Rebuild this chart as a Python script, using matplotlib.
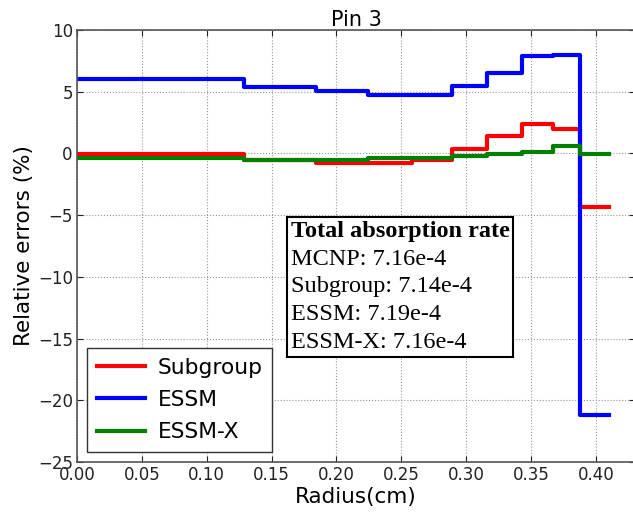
import matplotlib
matplotlib.use("Agg")
import matplotlib.pyplot as plt
import numpy as np
from matplotlib.offsetbox import TextArea, VPacker, AnchoredOffsetbox

# ring boundaries (cm)
edges = [0.0, 0.129, 0.184, 0.224, 0.258, 0.289, 0.316, 0.343, 0.367, 0.388, 0.410]
subgroup = [-0.03, -0.55, -0.78, -0.78, -0.55, 0.33, 1.43, 2.42, 1.97, -4.32]
essm = [6.0, 5.42, 5.05, 4.77, 4.77, 5.48, 6.48, 7.92, 8.0, -21.2]
essm_x = [-0.33, -0.52, -0.52, -0.35, -0.35, -0.19, -0.07, 0.08, 0.6, -0.05]
series_names = ["Subgroup", "ESSM", "ESSM-X"]
series_colors = ["#ff0000", "#0000ff", "#008000"]
title = "Pin 3"
xlabel = "Radius(cm)"
ylabel = "Relative errors (%)"
box_title = "Total absorption rate"
box_lines = ["MCNP: 7.16e-4", "Subgroup: 7.14e-4", "ESSM: 7.19e-4", "ESSM-X: 7.16e-4"]
xticks = [0.00, 0.05, 0.10, 0.15, 0.20, 0.25, 0.30, 0.35, 0.40]
yticks = [-25, -20, -15, -10, -5, 0, 5, 10]

plt.rcParams['font.family'] = ['DejaVu Sans']
fig = plt.figure(figsize=(6.33, 5.14), dpi=100)
fig.patch.set_facecolor('white')
ax = fig.add_axes([77/633, 52/514, 558/633, 432/514])

for vals, name, col in zip([subgroup, essm, essm_x], series_names, series_colors):
    ax.plot(edges, list(vals) + [vals[-1]], drawstyle='steps-post', color=col, lw=3, label=name)

ax.set_xlim(0, 558/1297)
ax.set_ylim(-25, 10)
ax.set_xticks(xticks)
ax.set_xticklabels([f"{t:.2f}" for t in xticks])
ax.set_yticks(yticks)
ax.set_yticklabels([f"\u2212{abs(t)}" if t < 0 else f"{t}" for t in yticks])
ax.grid(True, color='#999999', linestyle=':', linewidth=0.8)
ax.tick_params(direction='in', labelsize=12, length=4, pad=3, top=True, right=True, colors='#222222')
for s in ax.spines.values():
    s.set_color('#555555')
    s.set_linewidth(1.2)
ax.set_title(title, fontsize=15, pad=3)
ax.set_xlabel(xlabel, fontsize=15.5, labelpad=2)
ax.set_ylabel(ylabel, fontsize=15.5, labelpad=3)

leg = ax.legend(loc='lower left', fontsize=15.7, fancybox=False, framealpha=1,
                edgecolor='#333333', borderaxespad=0.45, handlelength=2.2, handletextpad=0.6,
                labelspacing=0.57, borderpad=0.45)
leg.get_frame().set_linewidth(1.0)

serif = ['Liberation Serif', 'DejaVu Serif']
items = [TextArea(box_title, textprops=dict(family=serif, weight='bold', size=17.5))]
for line in box_lines:
    items.append(TextArea(line, textprops=dict(family=serif, size=17.5)))
pack = VPacker(children=items, align='left', pad=0, sep=5)
ab = AnchoredOffsetbox(loc='upper left', child=pack, pad=0.28, borderpad=0,
                       bbox_to_anchor=((286.7 - 77) / 558, (462 - 216.7) / 432),
                       bbox_transform=ax.transAxes, frameon=True)
ab.patch.set_edgecolor('black')
ab.patch.set_linewidth(1.5)
ax.add_artist(ab)

fig.savefig('out.png', dpi=100, facecolor='white')
